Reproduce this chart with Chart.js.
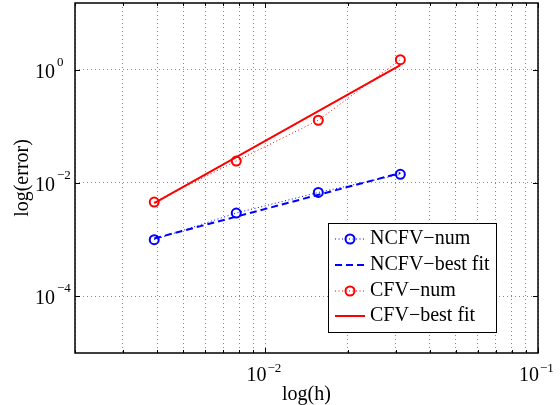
<!DOCTYPE html>
<html>
<head>
<meta charset="utf-8">
<script src="https://cdn.jsdelivr.net/npm/chart.js@4.4.0/dist/chart.umd.min.js"></script>
<style>
  html, body { margin: 0; padding: 0; background: #fff; }
  #wrap { width: 560px; height: 405px; }
</style>
</head>
<body>
<div id="wrap"><canvas id="chart" width="560" height="405"></canvas></div>
<script>
// ===== 数据 =====
const H_VALUES   = [0.00390625, 0.0078125, 0.015625, 0.03125];
const NCFV_NUM   = [1.0e-3, 2.95e-3, 6.8e-3, 1.42e-2];
const CFV_NUM    = [4.6e-3, 2.44e-2, 0.128, 1.5];
const FIT_H      = [0.00390625, 0.03125];
const NCFV_FIT   = [1.05e-3, 1.5e-2];
const CFV_FIT    = [4.4e-3, 1.2];

const X_TICKS = [0.002, 0.003, 0.004, 0.005, 0.006, 0.007, 0.008, 0.009,
                 0.01, 0.02, 0.03, 0.04, 0.05, 0.06, 0.07, 0.08, 0.09, 0.1];
const X_MAJOR = [0.01, 0.1];
const Y_TICKS = [1e-4, 1e-2, 1];
const X_RANGE = [0.002, 0.1];
const Y_RANGE = [1e-5, 15];

const FONT = "'Liberation Serif', 'Times New Roman', serif";
const BLUE = "#0000ff";
const RED = "#ff0000";

const pts = (xs, ys) => xs.map((x, i) => ({ x, y: ys[i] }));
const expText = (v) => String(Math.round(Math.log10(v))).replace("-", "\u2212");

// 边框、内向刻度、刻度标签、图例
const framePlugin = {
  id: "frame",
  afterDraw(chart) {
    const { ctx, chartArea: a, scales } = chart;
    const xs = scales.x, ys = scales.y;
    ctx.save();

    // ticks inward
    ctx.strokeStyle = "#000";
    ctx.lineWidth = 1;
    ctx.beginPath();
    X_TICKS.forEach((v) => {
      const px = Math.round(xs.getPixelForValue(v)) + 0.5;
      const len = X_MAJOR.includes(v) ? 5 : 3;
      ctx.moveTo(px, a.bottom); ctx.lineTo(px, a.bottom - len);
      ctx.moveTo(px, a.top); ctx.lineTo(px, a.top + len);
    });
    Y_TICKS.forEach((v) => {
      const py = Math.round(ys.getPixelForValue(v)) + 0.5;
      ctx.moveTo(a.left, py); ctx.lineTo(a.left + 5, py);
      ctx.moveTo(a.right, py); ctx.lineTo(a.right - 5, py);
    });
    ctx.stroke();

    // box
    ctx.lineWidth = 1.5;
    ctx.strokeRect(a.left, a.top, a.right - a.left, a.bottom - a.top);

    // tick labels: 10 + superscript
    ctx.fillStyle = "#000";
    ctx.textBaseline = "alphabetic";
    X_MAJOR.forEach((v) => {
      const px = xs.getPixelForValue(v);
      ctx.font = `20px ${FONT}`;
      ctx.textAlign = "right";
      ctx.fillText("10", px + 1, 381);
      ctx.font = `13px ${FONT}`;
      ctx.textAlign = "left";
      ctx.fillText(expText(v), px + 2, 372);
    });
    Y_TICKS.forEach((v) => {
      const py = ys.getPixelForValue(v);
      ctx.font = `20px ${FONT}`;
      ctx.textAlign = "right";
      ctx.fillText("10", 55, py + 8);
      ctx.font = `13px ${FONT}`;
      ctx.textAlign = "left";
      ctx.fillText(expText(v), 57, py - 4);
    });

    // legend
    const box = { x: 328, y: 223, w: 168, h: 109 };
    ctx.fillStyle = "#fff";
    ctx.fillRect(box.x, box.y, box.w, box.h);
    ctx.strokeStyle = "#000";
    ctx.lineWidth = 1;
    ctx.strokeRect(box.x + 0.5, box.y + 0.5, box.w, box.h);
    const rows = [239, 265, 291, 316];
    chart.data.datasets.forEach((ds, i) => {
      const y = rows[i];
      ctx.save();
      ctx.strokeStyle = ds.borderColor;
      ctx.lineWidth = ds.borderWidth;
      ctx.setLineDash(ds.borderDash || []);
      ctx.beginPath();
      ctx.moveTo(335, y); ctx.lineTo(365, y);
      ctx.stroke();
      ctx.setLineDash([]);
      if (ds.pointRadius > 0) {
        ctx.lineWidth = ds.pointBorderWidth;
        ctx.beginPath();
        ctx.arc(350, y, ds.pointRadius, 0, Math.PI * 2);
        ctx.stroke();
      }
      ctx.restore();
      ctx.fillStyle = "#000";
      ctx.font = `20px ${FONT}`;
      ctx.textAlign = "left";
      ctx.textBaseline = "middle";
      ctx.fillText(ds.label, 370, y);
    });
    ctx.restore();
  }
};

new Chart(document.getElementById("chart"), {
  type: "line",
  data: {
    datasets: [
      {
        label: "NCFV\u2212num",
        data: pts(H_VALUES, NCFV_NUM),
        borderColor: BLUE, backgroundColor: "transparent",
        borderWidth: 1, borderDash: [1, 2.5],
        pointRadius: 4.5, pointBorderWidth: 2, pointBorderColor: BLUE,
        pointBackgroundColor: "transparent", tension: 0
      },
      {
        label: "NCFV\u2212best fit",
        data: pts(FIT_H, NCFV_FIT),
        borderColor: BLUE, backgroundColor: "transparent",
        borderWidth: 2, borderDash: [7, 4],
        pointRadius: 0, tension: 0
      },
      {
        label: "CFV\u2212num",
        data: pts(H_VALUES, CFV_NUM),
        borderColor: RED, backgroundColor: "transparent",
        borderWidth: 1, borderDash: [1, 2.5],
        pointRadius: 4.5, pointBorderWidth: 2, pointBorderColor: RED,
        pointBackgroundColor: "transparent", tension: 0
      },
      {
        label: "CFV\u2212best fit",
        data: pts(FIT_H, CFV_FIT),
        borderColor: RED, backgroundColor: "transparent",
        borderWidth: 2, borderDash: [],
        pointRadius: 0, tension: 0
      }
    ]
  },
  options: {
    responsive: false,
    animation: false,
    devicePixelRatio: 1,
    layout: { autoPadding: false, padding: { top: 3, right: 22, left: 0, bottom: 0 } },
    plugins: { legend: { display: false }, tooltip: { enabled: false } },
    scales: {
      x: {
        type: "logarithmic",
        min: X_RANGE[0], max: X_RANGE[1],
        afterBuildTicks: (s) => { s.ticks = X_TICKS.map((v) => ({ value: v })); },
        afterFit: (s) => { s.height = 52; },
        ticks: { display: false },
        grid: { color: "#8a8a8a", lineWidth: 1, drawTicks: false },
        border: { display: false, dash: [1, 3] },
        title: {
          display: true, text: "log(h)", color: "#000",
          font: { family: FONT, size: 20 }, padding: { top: 0, bottom: -2 }
        }
      },
      y: {
        type: "logarithmic",
        min: Y_RANGE[0], max: Y_RANGE[1],
        afterBuildTicks: (s) => { s.ticks = Y_TICKS.map((v) => ({ value: v })); },
        afterFit: (s) => { s.width = 75; },
        ticks: { display: false },
        grid: { color: "#8a8a8a", lineWidth: 1, drawTicks: false },
        border: { display: false, dash: [1, 3] },
        title: {
          display: true, text: "log(error)", color: "#000",
          font: { family: FONT, size: 20 }, padding: { top: 11, bottom: 0 }
        }
      }
    }
  },
  plugins: [framePlugin]
});
</script>
</body>
</html>
